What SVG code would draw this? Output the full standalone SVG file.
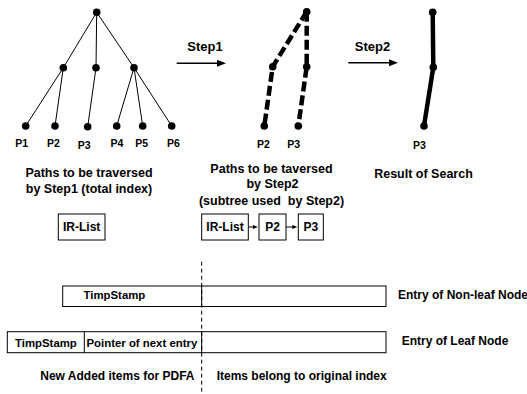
<svg xmlns="http://www.w3.org/2000/svg" width="527" height="394" viewBox="0 0 527 394">
  <defs>
    <marker id="stepHead" markerUnits="userSpaceOnUse" markerWidth="10" markerHeight="8" refX="1" refY="3.5" orient="auto">
      <path d="M0,0 L9,3.5 L0,7 Z" fill="#000"/>
    </marker>
    <marker id="smallHead" markerUnits="userSpaceOnUse" markerWidth="6" markerHeight="5" refX="1" refY="2" orient="auto">
      <path d="M0,0 L5,2 L0,4 Z" fill="#000"/>
    </marker>
  </defs>
  <style>
    text { font-family: "Liberation Sans", Arial, sans-serif; font-weight: bold; fill: #000; }
    .lbl { font-size: 10.5px; text-anchor: middle; }
    .cap { font-size: 12.5px; text-anchor: middle; }
    .step { font-size: 13px; text-anchor: middle; }
    .boxtxt { font-size: 12px; text-anchor: middle; }
    .row { font-size: 11.4px; }
    .note { font-size: 12px; }
    .dot { fill: #000; }
    .thin { stroke: #000; stroke-width: 1; fill: none; }
    .dash { stroke: #000; stroke-width: 4.5; stroke-dasharray: 10 4; fill: none; }
    .thick { stroke: #000; stroke-width: 4.5; fill: none; stroke-linecap: round; }
    .arrow { stroke: #000; stroke-width: 1.5; fill: none; }
    .box { fill: #fff; stroke: #000; stroke-width: 1; }
    .sep { stroke: #000; stroke-width: 1; stroke-dasharray: 4 3; fill: none; }
  </style>

  <!-- connectors: tree edges and step arrows -->
  <g id="connectors">
    <!-- full index tree -->
    <path class="thin" d="M96.7,12.3 L63.3,67.7 M96.7,12.3 L96,67.7 M96.7,12.3 L134,67.7"/>
    <path class="thin" d="M63.3,67.7 L25.7,126 M63.3,67.7 L55,126 M96,67.7 L87.7,126.7"/>
    <path class="thin" d="M134,67.7 L116.7,126 M134,67.7 L142.7,126 M134,67.7 L171.7,126"/>
    <!-- subtree for step 2 -->
    <path class="dash" d="M306.7,11.7 L272.7,66.7 L264.3,126"/>
    <path class="dash" d="M306.7,11.7 L306.7,66.7 L298.3,126"/>
    <!-- search result path -->
    <path class="thick" d="M432.7,12.3 L433.3,67.3 L424,126"/>
    <!-- step arrows -->
    <line class="arrow" x1="176.7" y1="63.3" x2="218" y2="63.3" marker-end="url(#stepHead)"/>
    <line class="arrow" x1="348.3" y1="62.7" x2="390" y2="62.7" marker-end="url(#stepHead)"/>
    <!-- IR-List chain -->
    <line class="thin" x1="248.3" y1="227" x2="254" y2="227" marker-end="url(#smallHead)"/>
    <line class="thin" x1="286" y1="227" x2="293.3" y2="227" marker-end="url(#smallHead)"/>
  </g>

  <!-- tree 1 nodes -->
  <g id="t1-root"><circle class="dot" cx="96.7" cy="12.3" r="3.8"/></g>
  <g id="t1-m1"><circle class="dot" cx="63.3" cy="67.7" r="3.8"/></g>
  <g id="t1-m2"><circle class="dot" cx="96" cy="67.7" r="3.8"/></g>
  <g id="t1-m3"><circle class="dot" cx="134" cy="67.7" r="3.8"/></g>
  <g id="t1-p1"><circle class="dot" cx="25.7" cy="126" r="3.8"/><text class="lbl" x="21.7" y="147">P1</text></g>
  <g id="t1-p2"><circle class="dot" cx="55" cy="126" r="3.8"/><text class="lbl" x="53.3" y="147">P2</text></g>
  <g id="t1-p3"><circle class="dot" cx="87.7" cy="126.7" r="3.8"/><text class="lbl" x="84.2" y="148.5">P3</text></g>
  <g id="t1-p4"><circle class="dot" cx="116.7" cy="126" r="3.8"/><text class="lbl" x="117" y="147">P4</text></g>
  <g id="t1-p5"><circle class="dot" cx="142.7" cy="126" r="3.8"/><text class="lbl" x="141.7" y="147">P5</text></g>
  <g id="t1-p6"><circle class="dot" cx="171.7" cy="126" r="3.8"/><text class="lbl" x="173.3" y="147">P6</text></g>

  <!-- tree 2 nodes -->
  <g id="t2-root"><circle class="dot" cx="306.7" cy="11.7" r="3.8"/></g>
  <g id="t2-m1"><circle class="dot" cx="272.7" cy="66.7" r="3.8"/></g>
  <g id="t2-m2"><circle class="dot" cx="306.7" cy="66.7" r="3.8"/></g>
  <g id="t2-p2"><circle class="dot" cx="264.3" cy="126" r="3.8"/><text class="lbl" x="263.5" y="147.5">P2</text></g>
  <g id="t2-p3"><circle class="dot" cx="298.3" cy="126" r="3.8"/><text class="lbl" x="293.7" y="148">P3</text></g>

  <!-- tree 3 nodes -->
  <g id="t3-root"><circle class="dot" cx="432.7" cy="12.3" r="3.8"/></g>
  <g id="t3-mid"><circle class="dot" cx="433.3" cy="67.3" r="3.8"/></g>
  <g id="t3-p3"><circle class="dot" cx="424" cy="126" r="3.8"/><text class="lbl" x="419.5" y="148.5">P3</text></g>

  <!-- step labels -->
  <g id="step1"><text class="step" x="205" y="51">Step1</text></g>
  <g id="step2"><text class="step" x="372.5" y="51">Step2</text></g>

  <!-- captions -->
  <g id="caption1">
    <text class="cap" x="89" y="176.5">Paths to be traversed</text>
    <text class="cap" x="89" y="192.5">by Step1 (total index)</text>
  </g>
  <g id="caption2">
    <text class="cap" x="271.5" y="172.8">Paths to be taversed</text>
    <text class="cap" x="272.5" y="188.3">by Step2</text>
    <text class="cap" x="271.5" y="205" xml:space="preserve">(subtree used  by Step2)</text>
  </g>
  <g id="caption3"><text class="cap" x="423.5" y="177.8">Result of Search</text></g>

  <!-- IR-List structures -->
  <g id="irlist1"><rect class="box" x="58.3" y="214" width="46.7" height="26"/><text class="boxtxt" x="81.7" y="231.3">IR-List</text></g>
  <g id="irlist2"><rect class="box" x="201.7" y="214" width="46.6" height="26"/><text class="boxtxt" x="225" y="231.3">IR-List</text></g>
  <g id="list-p2"><rect class="box" x="259" y="214" width="27" height="26"/><text class="boxtxt" x="272.5" y="231.3">P2</text></g>
  <g id="list-p3"><rect class="box" x="298.3" y="214" width="25" height="26"/><text class="boxtxt" x="310.8" y="231.3">P3</text></g>

  <!-- entry layouts -->
  <g id="entry-nonleaf">
    <rect class="box" x="62.7" y="286" width="323.3" height="20.5"/>
    <line class="thin" x1="201.7" y1="286" x2="201.7" y2="306.5"/>
    <text class="row" x="83.5" y="298.5">TimpStamp</text>
  </g>
  <g id="entry-leaf">
    <rect class="box" x="7.3" y="331.7" width="378.7" height="21"/>
    <line class="thin" x1="84.3" y1="331.7" x2="84.3" y2="352.7"/>
    <line class="thin" x1="201.7" y1="331.7" x2="201.7" y2="352.7"/>
    <text class="row" x="15" y="346.5">TimpStamp</text>
    <text class="row" x="86.5" y="346.5">Pointer of next entry</text>
  </g>
  <g id="entry-labels">
    <text class="note" x="398" y="299">Entry of Non-leaf Node</text>
    <text class="note" x="401.7" y="344.5">Entry of Leaf Node</text>
  </g>

  <!-- boundary between added and original items -->
  <g id="boundary">
    <line class="sep" x1="201.7" y1="261.7" x2="201.7" y2="394"/>
    <text class="note" x="194.5" y="379.5" text-anchor="end">New Added items for PDFA</text>
    <text class="note" x="216.7" y="379.5">Items belong to original index</text>
  </g>
</svg>
